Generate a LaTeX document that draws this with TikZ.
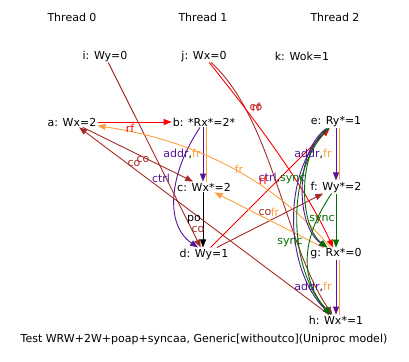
\documentclass[tikz,border=0pt]{standalone}
\usepackage{fontspec}
\setmainfont{DejaVu Sans}
\usetikzlibrary{arrows.meta}

\definecolor{rfred}{RGB}{255,0,0}
\definecolor{cobrown}{RGB}{165,42,42}
\definecolor{frorange}{RGB}{255,160,64}
\definecolor{deppurple}{RGB}{85,20,150}
\definecolor{syncgreen}{RGB}{0,110,0}

\begin{document}
\begin{tikzpicture}[x=1pt,y=-1pt,font=\fontsize{11}{12}\selectfont]
\useasboundingbox (0,0) rectangle (409,361);

\begin{scope}[every node/.style={inner sep=1pt}]
    \node (T0) at (72,17) {Thread 0};
    \node (T1) at (203,17) {Thread 1};
    \node (T2) at (335,17) {Thread 2};
    \node (i) at (105,56) {i: Wy=0};
    \node (j) at (204,56) {j: Wx=0};
    \node (k) at (302,56) {k: Wok=1};
    \node (a) at (72,122) {a: Wx=2};
    \node (b) at (204,122) {b: *Rx*=2*};
    \node (c) at (204,187) {c: Wx*=2};
    \node (d) at (204,254) {d: Wy=1};
    \node (e) at (336,122) {e: Ry*=1};
    \node (f) at (336,187) {f: Wy*=2};
    \node (g) at (336,254) {g: Rx*=0};
    \node (h) at (336,320) {h: Wx*=1};
    \node (caption) at (204,339) {Test WRW+2W+poap+syncaa, Generic[withoutco](Uniproc model)};
    \end{scope}

\begin{scope}[>={Triangle[length=8pt,width=6pt]}, line width=0.9pt]
    % Thread 1
    \draw [->,rfred] (a) -- (b);
    \draw [frorange] ([xshift=2pt]b.south) -- ([xshift=2pt]c.north);
    \draw [->,deppurple] ([xshift=-1pt]b.south) -- ([xshift=-1pt]c.north);
    \draw [->,deppurple] ([xshift=-4pt]b.south) .. controls (168,175) and (165,225) .. ([xshift=-6pt]d.north);
    \draw [->] ([xshift=-1pt]c.south) -- ([xshift=-1pt]d.north);
    % coherence
    \draw [->,cobrown] (i) -- (d);
    \draw [->,cobrown] (a) -- (c);
    \draw [->,cobrown] (h) -- (a);
    \draw [->,cobrown] (d) -- (f);
    \draw [->,cobrown] (j) .. controls (272,118) and (285,245) .. (h);
    % reads
    \draw [->,rfred] (j) .. controls (235,95) and (300,175) .. (g);
    \draw [->,rfred] (d) -- (e);
    \draw [->,frorange] (g) -- (c);
    \draw [->,frorange] (g) .. controls (265,170) and (180,138) .. (a);
    % Thread 2
    \draw [frorange] ([xshift=3pt]e.south) -- ([xshift=3pt]f.north);
    \draw [->,deppurple] (e.south) -- (f.north);
    \draw [->,syncgreen] (f.south) -- (g.north);
    \draw [frorange] ([xshift=3pt]g.south) -- ([xshift=3pt]h.north);
    \draw [->,deppurple] (g.south) -- (h.north);
    \draw [->,deppurple] (e) .. controls (295,150) and (295,225) .. (g);
    \draw [->,syncgreen] (e) .. controls (298,150) and (298,225) .. (g);
    \draw [->,deppurple] (e) .. controls (280,170) and (285,270) .. (h);
    \draw [->,syncgreen] (e) .. controls (284,170) and (289,270) .. (h);
    \draw [->,syncgreen] (f) .. controls (300,240) and (300,280) .. (h);
    \end{scope}

\begin{scope}[every node/.style={inner sep=0pt}]
    \node [rfred] (lab_ab) at (130,128) {rf};
    \node (lab_bc) at (182,154) {\textcolor{deppurple}{addr},\textcolor{frorange}{fr}};
    \node [deppurple] (lab_bd) at (161,178) {ctrl};
    \node [cobrown] (lab_ac) at (134,163) {co};
    \node [cobrown] (lab_id) at (143,159) {co};
    \node (lab_cd) at (194,220) {po};
    \node [cobrown] (lab_ha) at (198,229) {co};
    \node [frorange] (lab_ga) at (239,169) {fr};
    \node [cobrown] (lab_df) at (265,212) {co};
    \node [frorange] (lab_gc) at (275,212) {fr};
    \node [rfred] (lab_jg) at (256,107) {rf};
    \node [cobrown] (lab_jh) at (256,107) {co};
    \node (lab_eg) at (282,178) {\textcolor{deppurple}{ctrl},\textcolor{syncgreen}{sync}};
    \node [rfred] (lab_de) at (263,180) {rf};
    \node (lab_ef) at (313,154) {\textcolor{deppurple}{addr},\textcolor{frorange}{fr}};
    \node [syncgreen] (lab_fg) at (322,220) {sync};
    \node [syncgreen] (lab_fh) at (290,243) {sync};
    \node (lab_gh) at (313,287) {\textcolor{deppurple}{addr},\textcolor{frorange}{fr}};
    \end{scope}

\end{tikzpicture}
\end{document}
